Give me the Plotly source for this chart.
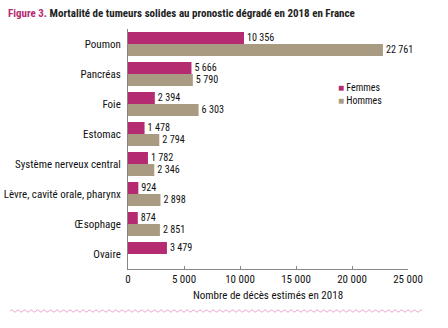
import plotly.graph_objects as go
import math

categories = ["Poumon", "Pancréas", "Foie", "Estomac", "Système nerveux central",
              "Lèvre, cavité orale, pharynx", "Œsophage", "Ovaire"]
femmes = [10356, 5666, 2394, 1478, 1782, 924, 874, 3479]
hommes = [22761, 5790, 6303, 2794, 2346, 2898, 2851, None]
x_ticks = [0, 5000, 10000, 15000, 20000, 25000]

FONT = "Liberation Sans Narrow, Roboto Condensed, Arial Narrow, Roboto, sans-serif"
C_F = "#B52B72"
C_H = "#A89B82"

fig = go.Figure()
fig.add_trace(go.Bar(y=categories, x=femmes, orientation="h", name="Femmes",
                     marker=dict(color=C_F, line=dict(width=0)),
                     texttemplate="%{x:,}", textposition="outside",
                     textfont=dict(size=11, color="#111"), cliponaxis=False,
                     showlegend=False))
fig.add_trace(go.Bar(y=categories, x=hommes, orientation="h", name="Hommes",
                     marker=dict(color=C_H, line=dict(width=0)),
                     texttemplate="%{x:,}", textposition="outside",
                     textfont=dict(size=11, color="#111"), cliponaxis=False,
                     showlegend=False))

# wavy decorative line below chart (paper coords)
x0p, x1p = (10 - 128) / 280, (422 - 128) / 280
yc = (269 - 311) / 240
amp = 1.0 / 240
period = 6.5 / 280
step = period / 8
n = int((x1p - x0p) / step)
pts = []
for i in range(n + 1):
    xx = x0p + i * step
    pts.append((xx, yc + amp * math.sin(2 * math.pi * (xx - x0p) / period)))
path = "M " + " L ".join(f"{a:.5f},{b:.5f}" for a, b in pts)

fig.update_layout(
    width=448, height=328,
    margin=dict(l=128, r=40, t=29, b=59, autoexpand=False),
    paper_bgcolor="white", plot_bgcolor="white",
    font=dict(family=FONT, size=11, color="#111"),
    separators=", ",
    barmode="group", bargap=0.2, bargroupgap=0,
    xaxis=dict(range=[0, 25000], tickvals=x_ticks, tickformat=",",
               showgrid=False, zeroline=False, showline=True,
               linecolor="#8a8580", linewidth=1, ticks="inside",
               ticklen=3, tickcolor="#8a8580", automargin=False,
               tickfont=dict(size=11), fixedrange=True,
               title=dict(text="Nombre de décès estimés en 2018",
                          font=dict(size=11), standoff=6)),
    yaxis=dict(autorange="reversed", showgrid=False, zeroline=False,
               showline=True, linecolor="#8a8580", linewidth=1,
               automargin=False,
               ticks="", ticklabelstandoff=4, tickfont=dict(size=11)),
    title=dict(text=f"<b><span style='color:{C_F}'>Figure 3.</span> Mortalité de tumeurs solides au pronostic dégradé en 2018 en France</b>",
               x=0, xref="container", xanchor="left", y=1, yref="container",
               yanchor="top", pad=dict(l=8, t=9),
               font=dict(size=11, color="#222")),
    annotations=[
        dict(text=f"<span style='color:{C_F}'>■</span> Femmes<br><span style='color:{C_H}'>■</span> Hommes",
             x=(337 - 128) / 280, y=(269 - 94) / 240, xref="paper", yref="paper",
             xanchor="left", yanchor="middle", align="left", showarrow=False,
             borderpad=0, font=dict(size=10)),
    ],
    shapes=[dict(type="path", path=path, xref="paper", yref="paper",
                 line=dict(color="#EB9BCB", width=1))],
)
fig.write_html("out.html")
